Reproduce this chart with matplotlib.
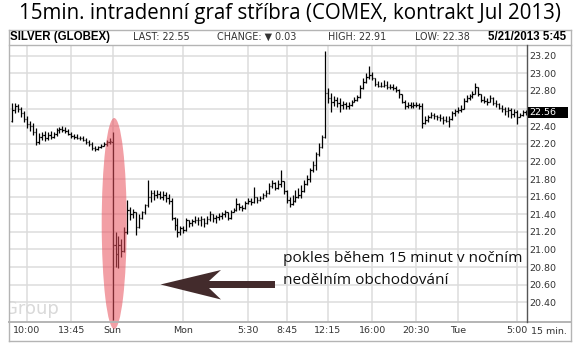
import matplotlib
matplotlib.use("Agg")
import matplotlib.pyplot as plt
from matplotlib.patches import Ellipse, Polygon, Rectangle
from matplotlib.lines import Line2D
import numpy as np

# ---------------- data (15-min OHLC bars, index 0 = Fri 8:45) ----------------
opens = [22.46, 22.58, 22.63, 22.60, 22.55, 22.48, 22.42, 22.40, 22.33, 22.22,
         22.28, 22.30, 22.26, 22.30, 22.28, 22.31, 22.36, 22.37, 22.36, 22.35,
         22.31, 22.29, 22.28, 22.27, 22.26, 22.24, 22.22, 22.20, 22.15, 22.14,
         22.16, 22.18, 22.20, 22.22,
         22.22, 21.05, 20.95, 21.05, 20.98, 21.20, 21.45, 21.40, 21.42, 21.25,
         21.36, 21.42, 21.50, 21.60, 21.64, 21.62, 21.63, 21.60, 21.62, 21.58,
         21.55, 21.36, 21.28, 21.20, 21.24,
         21.22, 21.33, 21.30, 21.32, 21.34, 21.33, 21.35, 21.30, 21.35, 21.40,
         21.36, 21.37, 21.38, 21.40, 21.42, 21.36, 21.43, 21.45, 21.52, 21.48,
         21.47, 21.53, 21.55, 21.54, 21.60, 21.56, 21.59, 21.62, 21.64, 21.72,
         21.76, 21.70, 21.74, 21.78, 21.66, 21.56, 21.52, 21.55, 21.60, 21.62,
         21.66, 21.74, 21.80, 21.90, 21.96, 22.08, 22.16, 22.28, 22.78, 22.72,
         22.68, 22.70, 22.66, 22.64, 22.65, 22.63, 22.64, 22.68, 22.70, 22.73,
         22.83, 22.90, 22.96, 22.98, 22.95, 22.88, 22.86, 22.86,
         22.87, 22.85, 22.84, 22.83, 22.81, 22.76, 22.68, 22.63, 22.64, 22.63,
         22.64, 22.64, 22.63, 22.44, 22.47, 22.50, 22.53, 22.51, 22.50, 22.49,
         22.47, 22.46, 22.48, 22.55, 22.57, 22.58, 22.60, 22.69, 22.72, 22.74,
         22.77, 22.84, 22.77, 22.70, 22.69, 22.67, 22.72, 22.66, 22.65, 22.61,
         22.60, 22.57, 22.58, 22.54, 22.56, 22.50, 22.53, 22.56]
highs = [22.66, 22.66, 22.65, 22.62, 22.57, 22.52, 22.46, 22.44, 22.38, 22.32,
         22.33, 22.34, 22.33, 22.34, 22.33, 22.38, 22.39, 22.40, 22.39, 22.37,
         22.33, 22.31, 22.31, 22.29, 22.29, 22.26, 22.24, 22.22, 22.17, 22.18,
         22.20, 22.22, 22.24, 22.26,
         22.33, 21.20, 21.15, 21.12, 21.26, 21.56, 21.48, 21.46, 21.42, 21.40,
         21.44, 21.52, 21.79, 21.68, 21.68, 21.67, 21.66, 21.66, 21.65, 21.63,
         21.58, 21.37, 21.36, 21.27, 21.27,
         21.36, 21.34, 21.35, 21.38, 21.37, 21.38, 21.36, 21.38, 21.44, 21.40,
         21.39, 21.41, 21.43, 21.45, 21.42, 21.45, 21.47, 21.58, 21.53, 21.50,
         21.55, 21.58, 21.59, 21.71, 21.60, 21.61, 21.64, 21.67, 21.76, 21.79,
         21.77, 21.79, 21.90, 21.78, 21.67, 21.60, 21.62, 21.67, 21.70, 21.73,
         21.79, 21.84, 21.93, 22.01, 22.11, 22.21, 22.30, 23.25, 22.83, 22.78,
         22.74, 22.73, 22.72, 22.69, 22.68, 22.67, 22.70, 22.73, 22.75, 22.87,
         22.95, 23.00, 23.08, 23.02, 22.95, 22.91, 22.90, 22.92,
         22.91, 22.88, 22.88, 22.86, 22.82, 22.76, 22.70, 22.67, 22.67, 22.67,
         22.68, 22.66, 22.66, 22.51, 22.53, 22.56, 22.55, 22.53, 22.54, 22.51,
         22.52, 22.51, 22.57, 22.60, 22.62, 22.64, 22.72, 22.75, 22.77, 22.80,
         22.89, 22.85, 22.77, 22.74, 22.72, 22.75, 22.73, 22.70, 22.66, 22.64,
         22.62, 22.62, 22.61, 22.60, 22.58, 22.55, 22.58, 22.58]
lows = [22.45, 22.55, 22.56, 22.50, 22.45, 22.38, 22.34, 22.30, 22.19, 22.20,
        22.24, 22.23, 22.24, 22.25, 22.26, 22.29, 22.32, 22.33, 22.32, 22.30,
        22.27, 22.25, 22.25, 22.24, 22.23, 22.20, 22.18, 22.13, 22.12, 22.13,
        22.15, 22.17, 22.18, 22.20,
        20.20, 20.80, 20.79, 20.92, 20.97, 21.18, 21.33, 21.36, 21.16, 21.24,
        21.35, 21.40, 21.48, 21.54, 21.56, 21.58, 21.57, 21.56, 21.54, 21.52,
        21.33, 21.22, 21.14, 21.17, 21.19,
        21.21, 21.25, 21.27, 21.30, 21.28, 21.27, 21.26, 21.29, 21.32, 21.31,
        21.30, 21.33, 21.35, 21.37, 21.33, 21.35, 21.42, 21.44, 21.45, 21.44,
        21.46, 21.52, 21.50, 21.53, 21.53, 21.55, 21.57, 21.60, 21.63, 21.70,
        21.68, 21.69, 21.71, 21.63, 21.53, 21.48, 21.50, 21.54, 21.58, 21.58,
        21.65, 21.73, 21.77, 21.88, 21.90, 22.06, 22.15, 22.27, 22.66, 22.56,
        22.63, 22.62, 22.56, 22.60, 22.60, 22.59, 22.63, 22.67, 22.69, 22.72,
        22.82, 22.89, 22.93, 22.92, 22.86, 22.84, 22.84, 22.84,
        22.82, 22.82, 22.81, 22.79, 22.72, 22.66, 22.60, 22.61, 22.61, 22.61,
        22.62, 22.60, 22.38, 22.43, 22.45, 22.49, 22.48, 22.47, 22.46, 22.43,
        22.45, 22.39, 22.47, 22.52, 22.55, 22.56, 22.60, 22.68, 22.70, 22.72,
        22.77, 22.74, 22.68, 22.66, 22.64, 22.67, 22.64, 22.62, 22.59, 22.56,
        22.53, 22.50, 22.49, 22.50, 22.43, 22.50, 22.52, 22.53]
closes = [22.58, 22.63, 22.60, 22.55, 22.48, 22.42, 22.40, 22.33, 22.22, 22.28,
          22.30, 22.26, 22.30, 22.28, 22.31, 22.36, 22.37, 22.36, 22.35, 22.31,
          22.29, 22.28, 22.27, 22.26, 22.24, 22.22, 22.20, 22.15, 22.14, 22.16,
          22.18, 22.20, 22.22, 22.23,
          21.05, 20.95, 21.05, 20.98, 21.20, 21.45, 21.40, 21.42, 21.25, 21.36,
          21.42, 21.50, 21.60, 21.64, 21.62, 21.63, 21.60, 21.62, 21.58, 21.55,
          21.36, 21.28, 21.20, 21.24, 21.22,
          21.33, 21.30, 21.32, 21.34, 21.33, 21.35, 21.30, 21.35, 21.40, 21.36,
          21.37, 21.38, 21.40, 21.42, 21.36, 21.43, 21.45, 21.52, 21.48, 21.47,
          21.53, 21.55, 21.54, 21.60, 21.56, 21.59, 21.62, 21.64, 21.72, 21.76,
          21.70, 21.74, 21.78, 21.66, 21.56, 21.52, 21.55, 21.60, 21.62, 21.66,
          21.74, 21.80, 21.90, 21.96, 22.08, 22.16, 22.28, 22.78, 22.72, 22.68,
          22.70, 22.66, 22.64, 22.65, 22.63, 22.64, 22.68, 22.70, 22.73, 22.83,
          22.90, 22.96, 22.98, 22.95, 22.88, 22.86, 22.86, 22.87,
          22.85, 22.84, 22.83, 22.81, 22.76, 22.68, 22.63, 22.64, 22.63, 22.64,
          22.64, 22.63, 22.44, 22.47, 22.50, 22.53, 22.51, 22.50, 22.49, 22.47,
          22.46, 22.48, 22.55, 22.57, 22.58, 22.60, 22.69, 22.72, 22.74, 22.77,
          22.84, 22.77, 22.70, 22.69, 22.67, 22.72, 22.66, 22.65, 22.61, 22.60,
          22.57, 22.58, 22.54, 22.56, 22.50, 22.53, 22.56, 22.56]

x_tick_index = [5, 20, 34, 58, 80, 93, 107, 122, 137, 151, 171]
x_tick_labels = ["10:00", "13:45", "Sun", "Mon", "5:30", "8:45", "12:15",
                 "16:00", "20:30", "Tue", "5:00"]
y_ticks = [20.40, 20.60, 20.80, 21.00, 21.20, 21.40, 21.60, 21.80, 22.00,
           22.20, 22.40, 22.60, 22.80, 23.00, 23.20]
# 22.60 label is hidden behind the last-price marker in the original
y_tick_labels = ["20.40", "20.60", "20.80", "21.00", "21.20", "21.40", "21.60",
                 "21.80", "22.00", "22.20", "22.40", "", "22.80", "23.00", "23.20"]
last_price = 22.56

title = "15min. intradenní graf stříbra (COMEX, kontrakt Jul 2013)"
header_symbol = "SILVER (GLOBEX)"
header_last = "LAST: 22.55"
header_change = "CHANGE: \u25BC 0.03"
header_high = "HIGH: 22.91"
header_low = "LOW: 22.38"
header_date = "5/21/2013 5:45"
note_lines = ["pokles během 15 minut v nočním", "nedělním obchodování"]

# ---------------- figure ----------------
W, H = 580, 360
fig = plt.figure(figsize=(W / 100, H / 100), dpi=100)
fig.patch.set_facecolor("white")


def fx(x):
    return x / W


def fy(y):
    return 1 - y / H


ax_l, ax_r, ax_t, ax_b = 9.0, 526.5, 44.5, 321.7
ax = fig.add_axes([fx(ax_l), fy(ax_b), fx(ax_r) - fx(ax_l), fy(ax_t) - fy(ax_b)])

n = len(closes)
xi = np.arange(n)
px_per_bar = 2.95
x0px = 12.25
ax.set_xlim((ax_l - x0px) / px_per_bar, (ax_r - x0px) / px_per_bar)
ppu = 88.08
y_ref_px, y_ref_val = 55.7, 23.20
ax.set_ylim(y_ref_val - (ax_b - y_ref_px) / ppu, y_ref_val + (y_ref_px - ax_t) / ppu)

for s in ax.spines.values():
    s.set_visible(False)

grid_c = "#dcdcdc"
for v in y_ticks:
    ax.axhline(v, color=grid_c, lw=1.1, zorder=0)
for t in x_tick_index:
    ax.axvline(t, color=grid_c, lw=1.1, zorder=0)

# OHLC bars
lw = 0.9
tick = 0.45
ax.vlines(xi, lows, highs, color="black", lw=lw, zorder=3)
ax.hlines(opens, xi - tick, xi, color="black", lw=lw, zorder=3)
ax.hlines(closes, xi, xi + tick, color="black", lw=lw, zorder=3)

# ticks
ax.set_xticks(x_tick_index)
ax.set_xticklabels(x_tick_labels)
ax.yaxis.tick_right()
ax.set_yticks(y_ticks)
ax.set_yticklabels(y_tick_labels)
ax.tick_params(axis="both", length=0, labelsize=6.8, labelcolor="#333333")
ax.tick_params(axis="x", pad=3.4)
ax.tick_params(axis="y", pad=2.0)

# watermark
ax.text(fx(59), fy(314), "Group", transform=fig.transFigure, ha="right",
        va="baseline", fontsize=13, color="#d9d9d9", family="DejaVu Sans",
        clip_on=True, zorder=1)

# red ellipse highlighting the drop
ex_c = (114.2 - x0px) / px_per_bar
ey_c = y_ref_val - (223.5 - y_ref_px) / ppu
ell = Ellipse((ex_c, ey_c), 25 / px_per_bar, 211 / ppu, facecolor="#e8505c",
              alpha=0.55, edgecolor="none", zorder=4, clip_on=False)
ax.add_patch(ell)

# arrow (figure pixel coords)
arrow_pts = [(160.5, 284.5), (221, 270), (209, 281), (275, 281), (275, 288),
             (209, 288), (221, 299.5)]
fig.patches.append(Polygon([(fx(a), fy(b)) for a, b in arrow_pts],
                           closed=True, transform=fig.transFigure,
                           facecolor="#432b2c", edgecolor="none", zorder=5))

# note text
fig.text(fx(283), fy(258), note_lines[0], fontsize=11.1, family="Open Sans",
         va="center", ha="left", color="#111111")
fig.text(fx(283), fy(281), note_lines[1], fontsize=11.1, family="Open Sans",
         va="center", ha="left", color="#111111")

# last price box
ly = y_ref_px + (y_ref_val - last_price) * ppu
fig.patches.append(Rectangle((fx(527.5), fy(ly + 5.5)), fx(567.5) - fx(527.5),
                             fy(ly - 5.5) - fy(ly + 5.5), transform=fig.transFigure,
                             facecolor="black", edgecolor="none", zorder=6))
fig.text(fx(529.3), fy(ly), f"{last_price:.2f}", color="white", fontsize=6.8,
         va="center", ha="left", zorder=7)

# frame lines
frame_c = "#b4b4b4"
def fline(xs, ys, c=frame_c, w=1.0, z=2):
    fig.add_artist(Line2D([fx(v) for v in xs], [fy(v) for v in ys],
                          color=c, lw=w, transform=fig.transFigure, zorder=z))

fline([8.5, 571], [29.5, 29.5])
fline([8.5, 571], [44.5, 44.5])
fline([8.5, 571], [322, 322], w=1.4)
fline([8.5, 571], [341, 341])
fline([8.5, 8.5], [29.5, 341])
fline([571, 571], [29.5, 341])
fline([526.5, 526.5], [44.5, 322], c="#555555", w=1.0, z=3)

# "15 min." label
fig.text(fx(549), fy(331), "15 min.", fontsize=6.8, color="#333333",
         ha="center", va="center")

# header
hy = fy(37)
fig.text(fx(10), hy, header_symbol, fontsize=8.3, weight="bold",
         family="Liberation Sans", va="center", ha="left")
fig.text(fx(133), hy, header_last, fontsize=6.9, color="#333333", va="center")
fig.text(fx(217), hy, header_change, fontsize=6.9, color="#333333", va="center")
fig.text(fx(328), hy, header_high, fontsize=6.9, color="#333333", va="center")
fig.text(fx(415), hy, header_low, fontsize=6.9, color="#333333", va="center")
fig.text(fx(566), hy, header_date, fontsize=8.3, weight="bold",
         family="Liberation Sans", va="center", ha="right")

# title
fig.text(fx(290), fy(13), title, fontsize=14.8, family="Open Sans",
         ha="center", va="center", color="black")

fig.savefig("out.png", dpi=100)
